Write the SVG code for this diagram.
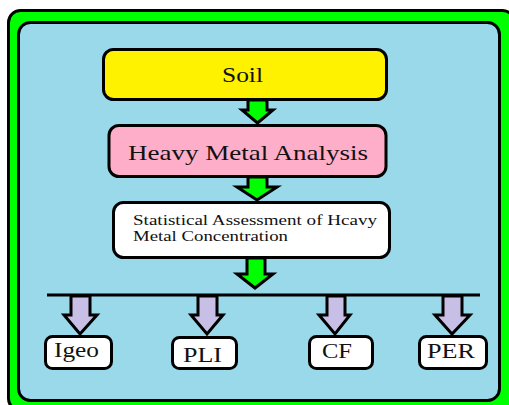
<svg xmlns="http://www.w3.org/2000/svg" width="509" height="405" viewBox="0 0 509 405">
<style>
.box{stroke:#000;stroke-width:3}
.t{font-family:"Liberation Serif","Times New Roman",serif;fill:#111}
.ga{fill:#00FF00;stroke:#000;stroke-width:3;stroke-linejoin:miter}
.la{fill:#C8BFE7;stroke:#000;stroke-width:3;stroke-linejoin:miter}
</style>
<rect x="8.5" y="10.5" width="506" height="400" rx="12" fill="#00FF00" stroke="#000" stroke-width="3"/>
<rect x="18.5" y="22.5" width="481" height="378" rx="12" fill="#99D9EA" stroke="#000" stroke-width="3"/>
<g id="soil">
<rect class="box" x="103.5" y="49.5" width="283" height="50" rx="10" fill="#FFF200"/>
<text class="t" x="222" y="82" font-size="21" textLength="41" lengthAdjust="spacingAndGlyphs">Soil</text>
</g>
<g id="hma">
<rect class="box" x="109" y="125.5" width="277" height="51" rx="10" fill="#FFAEC9"/>
<text class="t" x="128" y="160" font-size="21" textLength="240" lengthAdjust="spacingAndGlyphs">Heavy Metal Analysis</text>
</g>
<g id="stat">
<rect class="box" x="113.5" y="202.5" width="276" height="55" rx="10" fill="#FFFFFF"/>
<text class="t" x="133" y="225" font-size="15" textLength="244" lengthAdjust="spacingAndGlyphs">Statistical Assessment of Hcavy</text>
<text class="t" x="133" y="241" font-size="15" textLength="155" lengthAdjust="spacingAndGlyphs">Metal Concentration</text>
</g>
<g id="igeo">
<rect class="box" x="45.5" y="336.5" width="66" height="32" rx="7" fill="#FFFFFF"/>
<text class="t" x="54" y="357" font-size="20" textLength="45" lengthAdjust="spacingAndGlyphs">Igeo</text>
</g>
<g id="pli">
<rect class="box" x="172.5" y="337.5" width="64" height="31" rx="7" fill="#FFFFFF"/>
<text class="t" x="183" y="362" font-size="20" textLength="39" lengthAdjust="spacingAndGlyphs">PLI</text>
</g>
<g id="cf">
<rect class="box" x="309.5" y="336.5" width="63" height="32" rx="7" fill="#FFFFFF"/>
<text class="t" x="322" y="358" font-size="20" textLength="30" lengthAdjust="spacingAndGlyphs">CF</text>
</g>
<g id="per">
<rect class="box" x="419.5" y="336.5" width="67" height="32" rx="7" fill="#FFFFFF"/>
<text class="t" x="427" y="358" font-size="20" textLength="48" lengthAdjust="spacingAndGlyphs">PER</text>
</g>
<g id="connectors">
<polygon class="ga" points="248,100 267,100 267,110 273,110 257.5,123 242,110 248,110"/>
<polygon class="ga" points="248,177 267,177 267,187 277,187 257,200 237,187 248,187"/>
<polygon class="ga" points="247,258 265,258 265,274 273,274 255,288 237,274 247,274"/>
<line x1="47" y1="295" x2="480" y2="295" stroke="#000" stroke-width="3"/>
<polygon class="la" points="71,296 90,296 90,315 97,315 80,334 64,315 71,315"/>
<polygon class="la" points="198,296 217,296 217,315 223,315 207,334 191,315 198,315"/>
<polygon class="la" points="327,296 345,296 345,315 350,315 335,334 319,315 327,315"/>
<polygon class="la" points="443,296 462,296 462,315 470,315 452,334 435,315 443,315"/>
</g>
</svg>
